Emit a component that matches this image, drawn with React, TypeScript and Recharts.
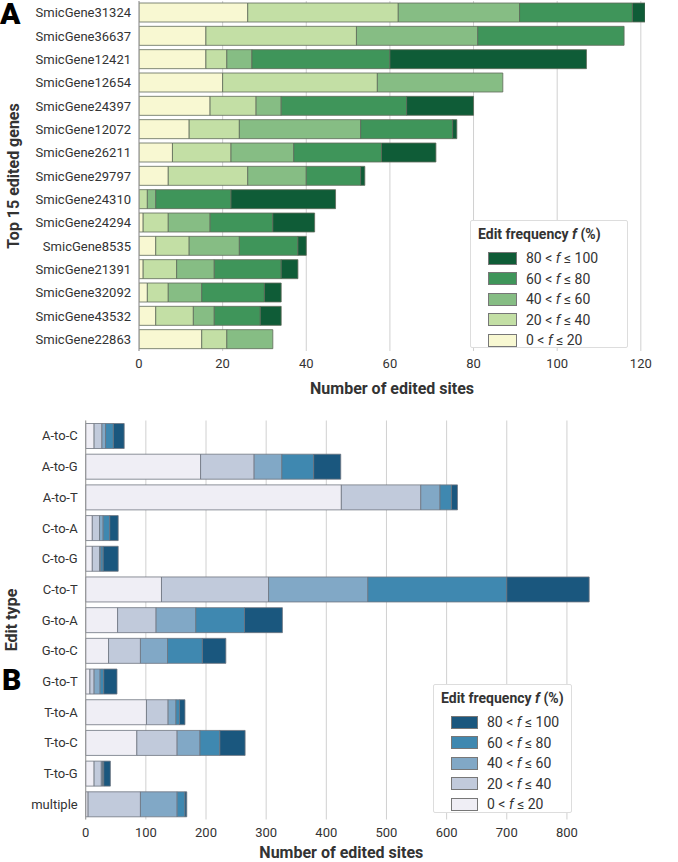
import React from 'react';
import { BarChart, Bar, XAxis, YAxis, ReferenceLine, Label } from 'recharts';

// Top panel: top 15 edited genes
const genes = [
  'SmicGene31324', 'SmicGene36637', 'SmicGene12421', 'SmicGene12654', 'SmicGene24397',
  'SmicGene12072', 'SmicGene26211', 'SmicGene29797', 'SmicGene24310', 'SmicGene24294',
  'SmicGene8535', 'SmicGene21391', 'SmicGene32092', 'SmicGene43532', 'SmicGene22863',
];
const geneF0_20 = [26, 16, 16, 20, 17, 12, 8, 7, 0, 1, 4, 1, 2, 4, 15];
const geneF20_40 = [36, 36, 5, 37, 11, 12, 14, 19, 2, 6, 8, 8, 5, 9, 6];
const geneF40_60 = [29, 29, 6, 30, 6, 29, 15, 14, 2, 10, 12, 9, 8, 5, 11];
const geneF60_80 = [27, 35, 33, 0, 30, 22, 21, 13, 18, 15, 14, 16, 15, 11, 0];
const geneF80_100 = [3, 0, 47, 0, 16, 1, 13, 1, 25, 10, 2, 4, 4, 5, 0];
const geneTicks = [0, 20, 40, 60, 80, 100, 120];

// Bottom panel: edit types
const editTypes = [
  'A-to-C', 'A-to-G', 'A-to-T', 'C-to-A', 'C-to-G', 'C-to-T', 'G-to-A',
  'G-to-C', 'G-to-T', 'T-to-A', 'T-to-C', 'T-to-G', 'multiple',
];
const typeF0_20 = [14, 191, 425, 11, 11, 126, 53, 38, 7, 101, 85, 14, 4];
const typeF20_40 = [13, 89, 132, 12, 12, 178, 64, 53, 7, 36, 67, 12, 87];
const typeF40_60 = [6, 46, 32, 6, 2, 165, 66, 45, 10, 13, 38, 2, 61];
const typeF60_80 = [13, 53, 19, 11, 4, 231, 81, 58, 6, 6, 33, 2, 13];
const typeF80_100 = [18, 45, 10, 14, 25, 137, 63, 39, 22, 9, 42, 11, 3];
const typeTicks = [0, 100, 200, 300, 400, 500, 600, 700, 800];

const binKeys = ['f0', 'f20', 'f40', 'f60', 'f80'];
const binLabels = [['0', '20'], ['20', '40'], ['40', '60'], ['60', '80'], ['80', '100']];
const GREENS = ['#f8f8d2', '#c3dfa5', '#86bd84', '#3f955a', '#0f5c37'];
const BLUES = ['#efeef5', '#c1cadb', '#81a8c6', '#3f88b0', '#1a577e'];

const geneData = genes.map((g, i) => ({
  name: g, f0: geneF0_20[i], f20: geneF20_40[i], f40: geneF40_60[i], f60: geneF60_80[i], f80: geneF80_100[i],
}));
const typeData = editTypes.map((t, i) => ({
  name: t, f0: typeF0_20[i], f20: typeF20_40[i], f40: typeF40_60[i], f60: typeF60_80[i], f80: typeF80_100[i],
}));

const FONT = 'Roboto, "Noto Sans", sans-serif';

const FreqLegend = ({ colors, swatchW, left, top, width, height }:
  { colors: string[]; swatchW: number; left: number; top: number; width: number; height: number }) => (
  <div style={{
    position: 'absolute', left, top, width, height,
    background: '#fff', border: '1px solid #ddd', borderRadius: 2, padding: '5px 0 0 7px',
    fontFamily: FONT, color: '#333', boxSizing: 'border-box',
  }}>
    <div style={{ fontWeight: 700, fontSize: 14, height: 22, whiteSpace: 'nowrap' }}>
      Edit frequency <i>f</i> (%)
    </div>
    {[4, 3, 2, 1, 0].map(i => (
      <div key={i} style={{ display: 'flex', alignItems: 'center', height: 20.5, paddingLeft: 10, whiteSpace: 'nowrap' }}>
        <div style={{ width: swatchW, height: 11, background: colors[i], border: '1px solid #777', marginRight: 9, flexShrink: 0 }} />
        <span style={{ fontSize: 14 }}>{binLabels[i][0]} &lt; <i>f</i> ≤ {binLabels[i][1]}</span>
      </div>
    ))}
  </div>
);

export default function App() {
  return (
    <div style={{ position: 'absolute', left: 0, top: 0, width: 678, height: 862, background: '#fff', fontFamily: FONT }}>
      <div style={{ position: 'absolute', left: 0, top: 0 }}>
        <BarChart width={678} height={400} data={geneData} layout="vertical"
          margin={{ top: 1, right: 33, bottom: 0, left: 0 }}>
          {/* vertical grid lines only at the ticks */}
          {geneTicks.map(t => (
            <ReferenceLine key={t} x={t} stroke="#d0d0d0" strokeWidth={1} zIndex={-100} />
          ))}
          <XAxis type="number" domain={[0, 121]} allowDataOverflow ticks={geneTicks} height={49} axisLine={false} tickLine={false}
            tick={{ fontSize: 13, fill: '#333', fontFamily: FONT }}>
            <Label value="Number of edited sites" position="insideBottom" offset={6}
              style={{ fontSize: 16, fontWeight: 700, fill: '#333', fontFamily: FONT }} />
          </XAxis>
          <YAxis type="category" dataKey="name" width={139} interval={0} tickLine={false} axisLine={{ stroke: '#999' }}
            tick={{ fontSize: 13, fill: '#333', fontFamily: FONT }}>
            <Label content={() => (
              <text x={19} y={176} transform="rotate(-90 19 176)" textAnchor="middle"
                style={{ fontSize: 16, fontWeight: 700, fill: '#333', fontFamily: FONT }}>Top 15 edited genes</text>
            )} />
          </YAxis>
          {binKeys.map((k, i) => (
            <Bar key={k} dataKey={k} stackId="a" fill={GREENS[i]} stroke="#5f6b5a" strokeWidth={0.8}
              barSize={19} isAnimationActive={false} />
          ))}
        </BarChart>
      </div>
      <FreqLegend colors={GREENS} swatchW={27} left={470} top={220} width={158} height={128} />

      <div style={{ position: 'absolute', left: 0, top: 400 }}>
        <BarChart width={678} height={462} data={typeData} layout="vertical"
          margin={{ top: 20.5, right: 81, bottom: 0, left: 0 }}>
          {typeTicks.map(t => (
            <ReferenceLine key={t} x={t} stroke="#d0d0d0" strokeWidth={1} zIndex={-100} />
          ))}
          <XAxis type="number" domain={[0, 850]} ticks={typeTicks} height={42.5} axisLine={false} tickLine={false}
            tick={{ fontSize: 13, fill: '#333', fontFamily: FONT }}>
            <Label value="Number of edited sites" position="insideBottom" offset={4}
              style={{ fontSize: 16, fontWeight: 700, fill: '#333', fontFamily: FONT }} />
          </XAxis>
          <YAxis type="category" dataKey="name" width={85.7} interval={0} tickLine={false} axisLine={{ stroke: '#999' }}
            tick={{ fontSize: 13, fill: '#333', fontFamily: FONT }}>
            <Label content={() => (
              <text x={17} y={220} transform="rotate(-90 17 220)" textAnchor="middle"
                style={{ fontSize: 16, fontWeight: 700, fill: '#333', fontFamily: FONT }}>Edit type</text>
            )} />
          </YAxis>
          {binKeys.map((k, i) => (
            <Bar key={k} dataKey={k} stackId="b" fill={BLUES[i]} stroke="#6e7580" strokeWidth={0.8}
              barSize={25} isAnimationActive={false} />
          ))}
        </BarChart>
      </div>
      <FreqLegend colors={BLUES} swatchW={25} left={433} top={684} width={139} height={129} />

      <div style={{ position: 'absolute', left: 0, top: 0, fontSize: 30, fontWeight: 900, fontFamily: FONT, lineHeight: '28px' }}>A</div>
      <div style={{ position: 'absolute', left: 2, top: 665, fontSize: 30, fontWeight: 900, fontFamily: FONT, lineHeight: '30px' }}>B</div>
    </div>
  );
}
